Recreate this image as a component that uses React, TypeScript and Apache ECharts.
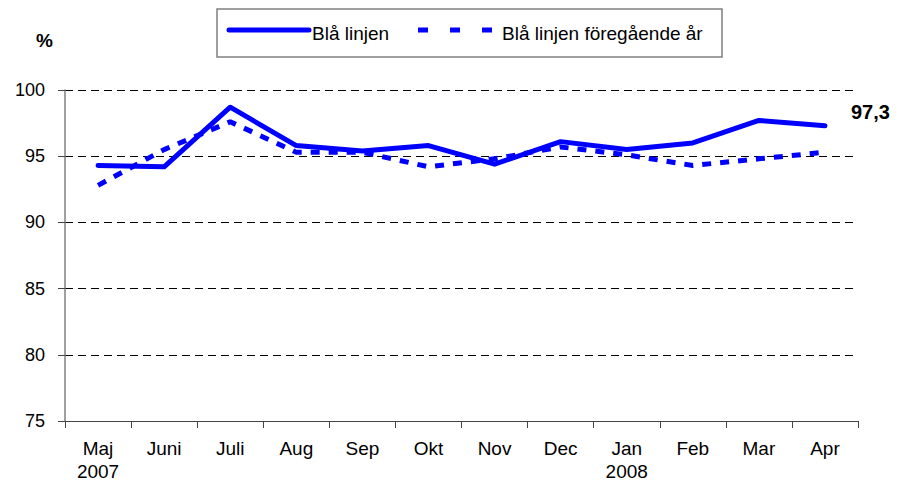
import React, { useEffect, useRef } from "react";
import * as echarts from "echarts";

const months = ["Maj", "Juni", "Juli", "Aug", "Sep", "Okt", "Nov", "Dec", "Jan", "Feb", "Mar", "Apr"];
const years = ["2007", "", "", "", "", "", "", "", "2008", "", "", ""];
const current = [94.3, 94.2, 98.7, 95.8, 95.4, 95.8, 94.4, 96.1, 95.5, 96.0, 97.7, 97.3];
const previous = [92.8, 95.5, 97.6, 95.3, 95.3, 94.2, 94.8, 95.7, 95.1, 94.3, 94.8, 95.3];
const seriesNames = ["Blå linjen", "Blå linjen föregående år"];
const yTicks = { min: 75, max: 100, interval: 5 };

const FONT = "Liberation Sans, Arial, sans-serif";
const BLUE = "#0000ff";

export default function App() {
  const ref = useRef<HTMLDivElement>(null);
  useEffect(() => {
    if (!ref.current) return;
    const chart = echarts.init(ref.current, null, { renderer: "svg" });
    const lastVal = current[current.length - 1];
    chart.setOption({
      animation: false,
      backgroundColor: "#ffffff",
      grid: { left: 65, right: 39, top: 90, bottom: 63, containLabel: false, outerBoundsMode: "none" },
      xAxis: {
        type: "category",
        data: months,
        boundaryGap: true,
        axisLine: { lineStyle: { color: "#444", width: 1 } },
        axisTick: { show: true, length: 7, lineStyle: { color: "#444" } },
        axisLabel: {
          color: "#000",
          fontFamily: FONT,
          fontSize: 19,
          lineHeight: 23,
          margin: 16,
          formatter: (v: string, i: number) => (years[i] ? v + "\n" + years[i] : v),
        },
      },
      yAxis: {
        type: "value",
        min: yTicks.min,
        max: yTicks.max,
        interval: yTicks.interval,
        axisLine: { show: true, lineStyle: { color: "#808080", width: 1.5 } },
        axisTick: { show: true, length: 7, lineStyle: { color: "#444" } },
        axisLabel: { color: "#000", fontFamily: FONT, fontSize: 18, margin: 20 },
        splitLine: { show: true, lineStyle: { color: "#000", type: [8, 5], width: 1 } },
      },
      series: [
        {
          name: seriesNames[1],
          type: "line",
          data: previous,
          showSymbol: false,
          symbol: "none",
          lineStyle: { color: BLUE, width: 5, type: [9, 9], cap: "butt" },
          z: 2,
        },
        {
          name: seriesNames[0],
          type: "line",
          data: current,
          showSymbol: false,
          symbol: "none",
          lineStyle: { color: BLUE, width: 5, cap: "round", join: "round" },
          endLabel: {
            show: true,
            distance: 26,
            offset: [0, -14],
            formatter: () => String(lastVal).replace(".", ","),
            fontFamily: FONT,
            fontWeight: "bold",
            fontSize: 20,
            color: "#000",
          },
          z: 3,
        },
      ],
      graphic: [
        {
          type: "text",
          x: 36,
          y: 40,
          style: { text: "%", font: "bold 19px " + FONT, fill: "#000", textVerticalAlign: "middle" },
        },
        {
          type: "rect",
          shape: { x: 217, y: 9, width: 505, height: 48 },
          style: { fill: "#fff", stroke: "#808080", lineWidth: 1.5 },
        },
        {
          type: "line",
          shape: { x1: 229, y1: 30, x2: 309, y2: 30 },
          style: { stroke: BLUE, lineWidth: 5, lineCap: "round" },
        },
        {
          type: "text",
          x: 312,
          y: 33,
          style: { text: seriesNames[0], font: "19px " + FONT, fill: "#000", textVerticalAlign: "middle" },
        },
        {
          type: "line",
          shape: { x1: 418, y1: 30, x2: 494, y2: 30 },
          style: { stroke: BLUE, lineWidth: 5, lineDash: [10, 22] },
        },
        {
          type: "text",
          x: 502,
          y: 33,
          style: { text: seriesNames[1], font: "19px " + FONT, fill: "#000", textVerticalAlign: "middle" },
        },
      ],
    });
    return () => chart.dispose();
  }, []);
  return <div ref={ref} style={{ width: 897, height: 484, position: "absolute", left: 0, top: 0 }} />;
}
